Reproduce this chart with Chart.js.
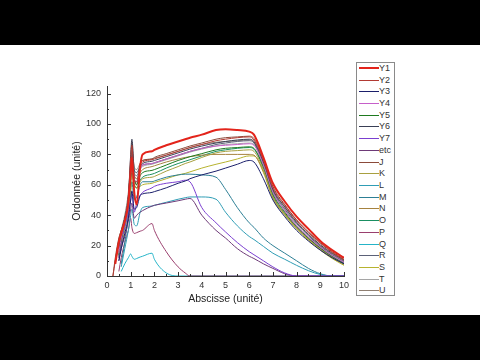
<!DOCTYPE html>
<html><head><meta charset="utf-8">
<script src="https://cdn.jsdelivr.net/npm/chart.js@4"></script>
<style>
html,body{margin:0;padding:0;background:#000;width:480px;height:360px;overflow:hidden}
#wrap{position:absolute;left:0;top:45px;width:480px;height:270px;background:#fff}
#c{position:absolute;left:0;top:0;width:480px;height:270px}
#legend{position:absolute;left:356px;top:17px;width:37px;height:232px;border:1px solid #8a8a8a;font:9px 'Liberation Sans',Arial,sans-serif;color:#333;background:#fff}
.row{position:absolute;left:0;height:11px;width:37px}
.sw{position:absolute;left:2px;width:20px;top:5px}
.lb{position:absolute;left:22px;top:0;line-height:11px;white-space:nowrap}
</style></head><body>
<div id="wrap"><canvas id="c" width="480" height="270"></canvas><div id="legend"></div></div>
<script>
const xs = [0.25,0.35,0.5,0.6,0.75,0.9,1.0,1.05,1.15,1.25,1.4,1.5,1.9,2,2.5,3,3.3,3.5,4,4.6,5,5.5,6,6.2,6.6,7,7.5,8,8.5,9,9.5,10];
const seriesNames = ['Y1','Y2','Y3','Y4','Y5','Y6','Y7','etc','J','K','L','M','N','O','P','Q','R','S','T','U'];
const xTickValues = [0,1,2,3,4,5,6,7,8,9,10];
const xMinorValues = [0.5,1.5,2.5,3.5,4.5,5.5,6.5,7.5,8.5,9.5];
const yTickValues = [0,20,40,60,80,100,120];
const yMinorValues = [10,30,50,70,90,110];

const Y1 = [null,8,22,28,36,48,68,78,55,47,72,80,82,83,86,88.5,90,91,93,96,96.5,96,95,93,78,61,49,39,31,23,17,12];
const Y2 = [0,10,24,30,37,52,78,86,63,62,73,75,76.5,77,79.5,82,83.5,84.5,86.5,89,90,91,91.5,89.5,76,58,46.5,36.5,28.5,21.5,15.5,10.5];
const Y3 = [null,null,10,18,28,38,50,56,44,45,53,54,55,55.5,58,61,62.5,64,66.5,69,71,73.5,76,75,64,50,39,30,23,17,12,8];
const Y4 = [null,null,15,25,36,50,68,74,64,62,70,73,74,74.5,77,79.5,81,82,84,85.5,86,86.5,87,86,73,55,43,33,25.5,19,13.5,9];
const Y5 = [null,null,14,24,36,48,66,72,64,60,66,68,69.5,70,73,76,77.5,78.5,80.5,83,84,84.5,85,84,72,54,42,32.5,25,18.5,13,8.5];
const Y6 = [null,null,18,28,38,52,80,90,70,68,72,74,75.5,76,78.5,81,82.5,83.5,85.5,87.5,88.5,89.5,90,88.5,75,57,45.5,35.5,27.5,20.5,15,10.5];
const Y7 = [null,null,12,22,32,42,50,54,42,48,53,55,58,59,61,62,63,62,45,35,29,22,16,14,10,6,2,0,0,0,0,0];
const ETC = [null,null,10,18,26,36,44,48,38,40,42,43,46,46.5,48,49.5,50.5,51,40,30,25,18,13,11.5,8,5,1.5,0,0,0,0,0];
const J = [0,12,25,30,38,50,75,88,65,60,74,76,77,78,80.5,83,84.5,85.5,87.5,90,91,91.5,92,90.5,77,59,47,37,29,22,16,11];
const K = [null,null,12,22,33,45,60,66,60,58,62,64,65,65.5,69,72,74,75,78,81,82,82.5,83,82,70,52,40.5,31.5,24,17.5,12,7.5];
const L = [null,null,null,6,18,30,40,44,34,33,42,45,46,46.5,48.5,50.5,51.5,52,52,50.5,42,33,26,24,19.5,15,11,7,3.5,1,0,0];
const M = [null,null,null,8,22,40,58,62,50,52,60,62,62,62.5,65,66.5,67,67,66.5,65,57,45,35,32,25,20,15,10,5,1.5,0,0];
const N = [null,null,14,25,36,48,66,72,66,64,68,70,72,72.5,75,77,78,78.5,79.5,80,80,80,80,79.5,69,52,41,32,24.5,18,12.5,8];
const O = [null,null,13,23,34,46,62,68,60,58,63,65,67,67.5,71,74,75.5,76.5,79,82,83,84,84.5,83.5,71,53,41,32,24.5,18,12.5,8];
const P = [null,null,3,12,22,30,38,32,28,28.5,29.5,30,34.5,30,16,6,2,0,0,0,0,0,0,0,0,0,0,0,0,0,0,0];
const Q = [null,null,null,3,8,12,14.5,13,11,11.5,12.5,13,15,11,2,0,0,0,0,0,0,0,0,0,0,0,0,0,0,0,0,0];
const R = [null,null,16,26,38,52,72,80,68,66,71,73,74,74.5,77,79.5,81,82,84,86.5,87.5,88.5,89,87.5,74,56,44,34.5,26.5,19.5,14,9.5];
const S = [null,null,12,20,30,42,55,62,60,58,59,60,61,61.5,64,66.5,67.5,68.5,71,73.5,75,77,79,79,68,51,40,31,23.5,17,11.5,7];
const T = [null,null,15,25,37,50,70,76,66,64,70,72,73.5,74,76.5,79,80.5,81.5,83.5,85.5,86.5,87,87.5,86.5,73,55,43,33.5,25.5,19,13.5,9];
const U = [null,8,22,30,40,55,74,82,72,70,74,76,77,77.5,79.5,82,83.5,84.5,86.5,88,88.5,89,89.5,88,74.5,56.5,45,35,27,20,14.5,10];

const seriesValues = [Y1,Y2,Y3,Y4,Y5,Y6,Y7,ETC,J,K,L,M,N,O,P,Q,R,S,T,U];
const colors = ['#e3241b','#b23a33','#1b1f6b','#c65fc9','#1f7a1f','#3a3f55','#7b3fd0','#6e3a78','#8b4a3a','#a8a040','#2f9db5','#2d7f95','#a6823f','#1a8f62','#9a3f6e','#25b4c8','#5b6178','#b7b32f','#a5a5a5','#8f7f72'];
const widths = [2,1,1,1,1,1,1,1,1,1,1,1,1,1,1,1,1,1,1,1];

const datasets = seriesNames.map((n,i)=>({
  label:n,
  data: xs.map((x,k)=>({x:x,y:seriesValues[i][k]})),
  borderColor:colors[i], backgroundColor:colors[i],
  borderWidth:widths[i], pointRadius:0, fill:false,
  cubicInterpolationMode:'monotone',
  order: i===0 ? 0 : 1
}));

const tickPlugin = {
  id:'manualTicks',
  afterDraw(chart){
    const {ctx, scales:{x,y}, chartArea:a} = chart;
    ctx.save(); ctx.strokeStyle='#333'; ctx.lineWidth=1; ctx.beginPath();
    xTickValues.forEach(v=>{const p=Math.round(x.getPixelForValue(v))+0.5; ctx.moveTo(p,a.bottom); ctx.lineTo(p,a.bottom-4);});
    xMinorValues.forEach(v=>{const p=Math.round(x.getPixelForValue(v))+0.5; ctx.moveTo(p,a.bottom); ctx.lineTo(p,a.bottom-2);});
    yTickValues.forEach(v=>{const p=Math.round(y.getPixelForValue(v))+0.5; ctx.moveTo(a.left,p); ctx.lineTo(a.left+4,p);});
    yMinorValues.forEach(v=>{const p=Math.round(y.getPixelForValue(v))+0.5; ctx.moveTo(a.left,p); ctx.lineTo(a.left+2,p);});
    ctx.stroke(); ctx.restore();
  }
};

const fam = "'Liberation Sans', Arial, sans-serif";
const chart = new Chart(document.getElementById('c'), {
  type:'line',
  data:{datasets},
  plugins:[tickPlugin],
  options:{
    responsive:false, animation:false,
    layout:{padding:{left:0,right:136,top:41,bottom:0}},
    plugins:{legend:{display:false},tooltip:{enabled:false}},
    scales:{
      x:{type:'linear',min:0,max:10,
        afterFit(s){s.height=39;},
        afterBuildTicks(s){s.ticks=xTickValues.map(v=>({value:v}));},
        ticks:{font:{size:9,family:fam},color:'#333',padding:4,maxRotation:0,autoSkip:false},
        grid:{display:false,drawTicks:false},
        border:{display:true,color:'#333',width:1},
        title:{display:true,text:'Abscisse (unité)',font:{size:10.5,family:fam},color:'#222',padding:{top:0,bottom:10}}
      },
      y:{type:'linear',min:0,max:125,
        afterFit(s){s.width=107;},
        afterBuildTicks(s){s.ticks=yTickValues.map(v=>({value:v}));},
        ticks:{font:{size:9,family:fam},color:'#333',padding:6,autoSkip:false},
        grid:{display:false,drawTicks:false},
        border:{display:true,color:'#333',width:1},
        title:{display:true,text:'Ordonnée (unité)',font:{size:10.5,family:fam},color:'#222',padding:{top:71,bottom:0}}
      }
    }
  }
});

const leg = document.getElementById('legend');
chart.data.datasets.forEach((d,i)=>{
  const row=document.createElement('div'); row.className='row';
  row.style.top=(5.3+11.72*i-5.5)+'px';
  const sw=document.createElement('div'); sw.className='sw';
  sw.style.borderTop=d.borderWidth+'px solid '+d.borderColor;
  if(d.borderWidth>1) sw.style.top='4.5px';
  const lb=document.createElement('div'); lb.className='lb'; lb.textContent=d.label;
  row.appendChild(sw); row.appendChild(lb); leg.appendChild(row);
});
</script>
</body></html>
